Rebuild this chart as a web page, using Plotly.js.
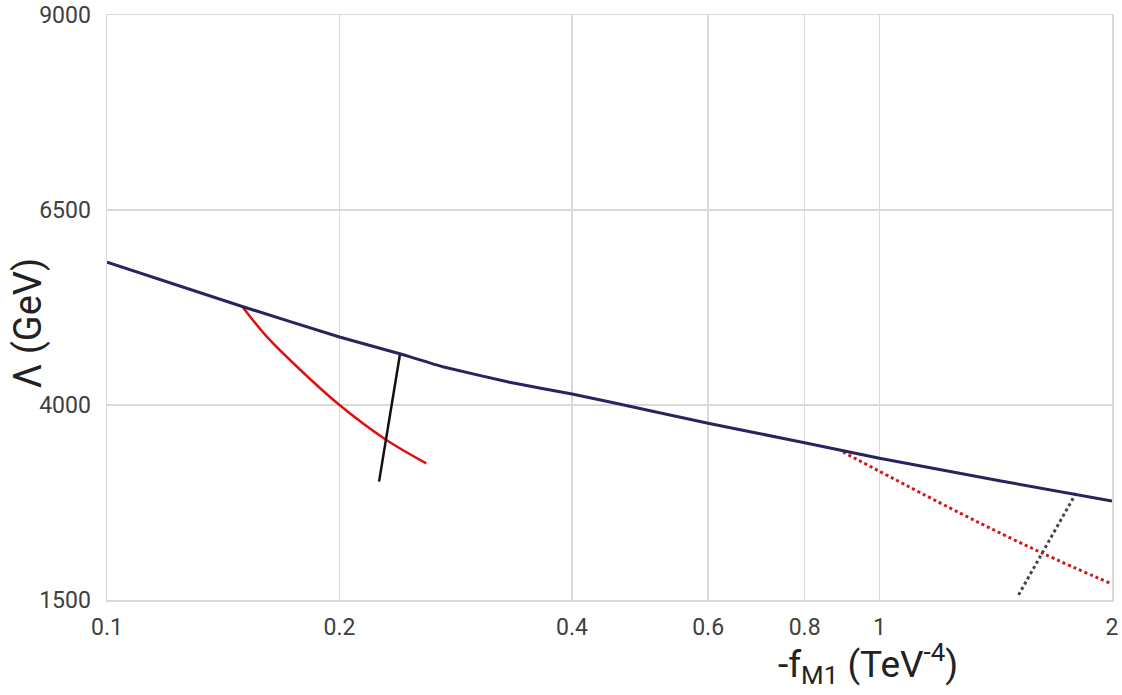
<!DOCTYPE html>
<html>
<head>
<meta charset="utf-8">
<script src="https://cdn.plot.ly/plotly-3.0.1.min.js"></script>
<style>html,body{margin:0;padding:0;background:#fff;}#chart{width:1122px;height:695px;}</style>
</head>
<body>
<div id="chart"></div>
<script>
// Envelope (blue) line
const envX = [0.1, 0.150, 0.2, 0.24, 0.272, 0.332, 0.4, 0.505, 0.6, 0.8, 1.0, 1.43, 2.0];
const envY = [5830, 5260, 4872, 4654, 4491, 4291, 4141, 3927, 3765, 3517, 3317, 3030, 2769];
// Red solid curve
const redX = [0.150, 0.161, 0.178, 0.2, 0.230, 0.259];
const redY = [5250, 4876, 4449, 4000, 3551, 3252];
// Black solid segment
const blackX = [0.2394, 0.225];
const blackY = [4641, 3017];
// Red dotted curve
const redDotX = [0.897, 1.271, 1.623, 2.0];
const redDotY = [3397, 2615, 2103, 1705];
// Black dotted segment
const blackDotX = [1.797, 1.511];
const blackDotY = [2872, 1551];
// Ticks
const xTicks = [0.1, 0.2, 0.4, 0.6, 0.8, 1, 2];
const xTickText = ["0.1", "0.2", "0.4", "0.6", "0.8", "1", "2"];
const yTicks = [1500, 4000, 6500, 9000];

const traces = [
  {x: redX, y: redY, mode: 'lines', line: {color: '#e01010', width: 2.5, shape: 'spline'}, hoverinfo: 'skip'},
  {x: blackX, y: blackY, mode: 'lines', line: {color: '#111111', width: 2.5}, hoverinfo: 'skip'},
  {x: redDotX, y: redDotY, mode: 'lines', line: {color: '#d01818', width: 3, dash: 'dot', shape: 'spline'}, hoverinfo: 'skip'},
  {x: blackDotX, y: blackDotY, mode: 'lines', line: {color: '#444444', width: 3, dash: 'dot'}, hoverinfo: 'skip'},
  {x: envX, y: envY, mode: 'lines', line: {color: '#28245e', width: 3, shape: 'spline', smoothing: 0.3}, hoverinfo: 'skip'}
];

const gridC = '#d9d9d9';
const layout = {
  width: 1122, height: 695,
  margin: {l: 107, r: 10, t: 15, b: 95},
  showlegend: false,
  paper_bgcolor: '#ffffff', plot_bgcolor: '#ffffff',
  font: {family: 'Roboto, sans-serif', color: '#333333'},
  xaxis: {
    type: 'log', range: [-1, Math.log10(2)],
    tickvals: xTicks, ticktext: xTickText,
    tickfont: {size: 23, color: '#404040'},
    showgrid: true, gridcolor: gridC, gridwidth: 1.5,
    showline: true, linecolor: gridC, linewidth: 1.5, mirror: true,
    zeroline: false, ticks: '', ticklabelstandoff: 6
  },
  yaxis: {
    range: [1500, 9000],
    tickvals: yTicks,
    tickfont: {size: 23, color: '#404040'},
    showgrid: true, gridcolor: gridC, gridwidth: 1.5,
    showline: true, linecolor: gridC, linewidth: 1.5, mirror: true,
    zeroline: false, ticks: '', ticklabelstandoff: 10
  },
  annotations: [
    {text: '-f<sub>M1</sub> (TeV<sup>-4</sup>)', xref: 'paper', yref: 'paper',
     x: 0.757, y: 0, yshift: -63, xanchor: 'center', yanchor: 'middle',
     showarrow: false, font: {size: 37, color: '#222222', family: 'Roboto, sans-serif'}},
    {text: 'Λ (GeV)', xref: 'paper', yref: 'paper',
     x: -0.079, y: 0.4735, xanchor: 'center', yanchor: 'middle', textangle: -90,
     showarrow: false, font: {size: 38, color: '#222222', family: 'Roboto, sans-serif'}}
  ]
};

Plotly.newPlot('chart', traces, layout, {displayModeBar: false, staticPlot: true});
</script>
</body>
</html>
